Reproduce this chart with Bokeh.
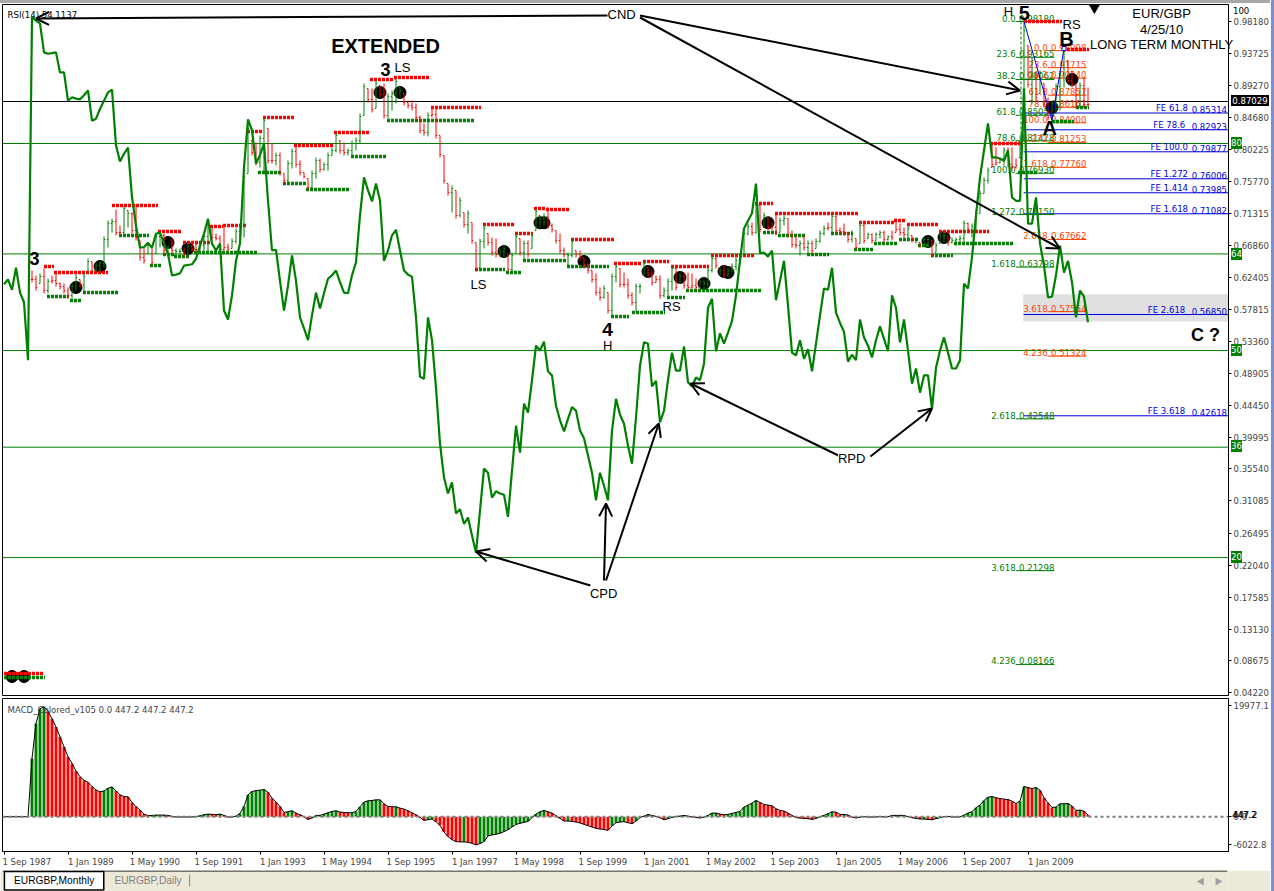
from bokeh.plotting import figure
from bokeh.embed import file_html
from bokeh.resources import INLINE
from bokeh.layouts import column, row
from bokeh.core.properties import value
from bokeh.models import (Range1d, LinearAxis, FixedTicker, PrintfTickFormatter, Span, Label, Arrow,
                          OpenHead, Div)

# ---------------------------------------------------------------- data
bar_first = 7
bar_high = [.6332,.6262,.6290,.6360,.6220,.6262,.6290,.6164,.6150,.6094,
.6150,.6276,.6206,.6290,.6500,.6458,.6444,.6472,.6808,.7032,
.7060,.7186,.6962,.7242,.7172,.7144,.7256,.6752,.6654,.6724,
.6682,.6850,.6864,.6850,.6682,.6780,.6640,.6640,.6654,.6710,
.6710,.6738,.6724,.6850,.6990,.6934,.6850,.6822,.6934,.6710,
.6780,.6920,.6990,.7690,.8362,.8152,.8124,.8222,.8474,.8320,
.8110,.7984,.7984,.7690,.7872,.8040,.8082,.7872,.7704,.7620,
.7732,.7914,.7900,.7844,.7984,.8054,.8264,.8152,.8124,.8040,
.8152,.8194,.8530,.8950,.8880,.8880,.8992,.8922,.8950,.8810,
.8852,.9020,.8894,.8810,.8712,.8712,.8670,.8502,.8390,.8544,
.8614,.8614,.8222,.7942,.7550,.7522,.7452,.7354,.7144,.7172,
.7004,.6724,.6780,.6962,.6850,.6794,.6780,.6640,.6682,.6570,
.6584,.6850,.6780,.6752,.6752,.6864,.7200,.7102,.7130,.7214,
.6990,.6892,.6850,.6654,.6584,.6780,.6612,.6612,.6514,.6430,
.6332,.6290,.6094,.6122,.6024,.6290,.6430,.6360,.6304,.6220,
.6024,.6150,.6150,.6472,.6374,.6332,.6262,.6262,.6094,.6220,
.6402,.6402,.6290,.6304,.6304,.6290,.6220,.6220,.6192,.6374,
.6542,.6514,.6374,.6402,.6374,.6430,.6514,.6570,.6892,.6990,
.7004,.7284,.7270,.7144,.7074,.7004,.7130,.7074,.7102,.7060,
.6892,.6822,.6752,.6822,.6752,.6752,.6780,.6892,.6962,.7004,
.7130,.7102,.6934,.6990,.6864,.6892,.6780,.7004,.6990,.6864,
.6850,.6864,.6892,.6892,.6822,.6892,.7060,.6990,.6934,.6962,
.6822,.6794,.6724,.6794,.6794,.6752,.6724,.6864,.6864,.6822,
.6794,.6794,.6822,.7032,.7004,.6990,.7172,.7452,.7634,.7774,
.8110,.8054,.7914,.8054,.8054,.8054,.7900,.8152,.9818,.9482,
.9314,.9104,.9132,.8950,.8754,.8712,.8950,.9132,.9440,.9272,
.9132,.8950,.8964,.9034,.8894]
bar_low = [.6164,.6052,.6150,.6010,.6010,.6150,.6108,.6066,.6010,.5940,
.5940,.6052,.6094,.6024,.6290,.6290,.6304,.6304,.6374,.6654,
.6864,.6822,.6822,.6822,.6934,.6850,.6752,.6472,.6430,.6570,
.6402,.6570,.6654,.6570,.6542,.6570,.6514,.6514,.6514,.6570,
.6584,.6584,.6612,.6612,.6584,.6752,.6752,.6584,.6612,.6584,
.6640,.6710,.6780,.6794,.7690,.7942,.7802,.7774,.7704,.7830,
.7830,.7802,.7662,.7550,.7550,.7760,.7774,.7662,.7620,.7452,
.7480,.7620,.7704,.7732,.7732,.7942,.7984,.7970,.7942,.7942,
.7914,.8012,.8110,.8502,.8684,.8544,.8600,.8754,.8460,.8460,
.8572,.8670,.8754,.8642,.8600,.8572,.8432,.8250,.8222,.8208,
.8474,.8180,.7914,.7550,.7382,.7144,.7060,.7074,.6934,.6850,
.6710,.6318,.6374,.6640,.6682,.6542,.6514,.6514,.6514,.6304,
.6304,.6570,.6542,.6472,.6514,.6640,.6892,.6934,.6962,.6920,
.6864,.6710,.6570,.6514,.6402,.6514,.6514,.6472,.6374,.6290,
.6164,.5982,.5912,.5940,.5730,.5702,.6164,.6094,.6094,.5940,
.5842,.5744,.6010,.6262,.6234,.6122,.6164,.5940,.5954,.5954,
.6052,.6052,.6150,.6080,.6052,.6080,.6052,.6080,.6080,.6094,
.6304,.6360,.6262,.6234,.6234,.6304,.6332,.6444,.6542,.6822,
.6822,.6850,.6864,.6934,.6892,.6892,.6822,.6864,.6962,.6794,
.6654,.6640,.6542,.6612,.6584,.6570,.6640,.6724,.6822,.6892,
.6850,.6850,.6850,.6822,.6724,.6724,.6612,.6710,.6710,.6780,
.6710,.6752,.6780,.6724,.6752,.6752,.6864,.6822,.6794,.6780,
.6724,.6710,.6654,.6682,.6710,.6514,.6584,.6710,.6724,.6682,
.6710,.6682,.6710,.6724,.6864,.6794,.6892,.7130,.7410,.7550,
.7774,.7802,.7830,.7802,.7774,.7732,.7760,.7914,.8152,.8894,
.8670,.8712,.8810,.8614,.8432,.8474,.8530,.8572,.8894,.8950,
.8894,.8600,.8614,.8614,.8614]
bar_close = [.6206,.6094,.6248,.6052,.6178,.6192,.6150,.6108,.6052,.5982,
.6108,.6234,.6136,.6248,.6458,.6332,.6402,.6430,.6766,.6990,
.7018,.6864,.6864,.7200,.7130,.6892,.6794,.6514,.6472,.6682,
.6444,.6808,.6822,.6612,.6640,.6612,.6598,.6598,.6556,.6668,
.6626,.6626,.6682,.6808,.6948,.6794,.6780,.6626,.6654,.6626,
.6738,.6878,.6948,.7648,.8320,.7984,.7844,.8180,.8432,.7872,
.7872,.7942,.7704,.7592,.7830,.7998,.7816,.7704,.7648,.7494,
.7690,.7872,.7746,.7816,.7942,.8012,.8222,.8012,.7984,.8012,
.8110,.8152,.8488,.8908,.8726,.8586,.8950,.8796,.8502,.8768,
.8810,.8978,.8852,.8684,.8642,.8614,.8474,.8292,.8264,.8502,
.8516,.8222,.7956,.7592,.7424,.7480,.7102,.7312,.6976,.7130,
.6752,.6360,.6738,.6920,.6724,.6584,.6556,.6598,.6640,.6346,
.6542,.6808,.6584,.6710,.6556,.6822,.7158,.7060,.7088,.6962,
.6906,.6752,.6612,.6556,.6542,.6738,.6556,.6514,.6416,.6332,
.6206,.6024,.5954,.6080,.5772,.6248,.6388,.6136,.6136,.5982,
.5884,.6108,.6108,.6430,.6276,.6164,.6206,.5982,.6052,.6178,
.6360,.6094,.6248,.6122,.6094,.6122,.6094,.6178,.6150,.6332,
.6500,.6402,.6332,.6276,.6332,.6388,.6472,.6528,.6850,.6948,
.6864,.7242,.6906,.7102,.6934,.6934,.6864,.7032,.7060,.6836,
.6696,.6682,.6710,.6654,.6710,.6612,.6738,.6850,.6920,.6934,
.7088,.6892,.6878,.6864,.6766,.6850,.6654,.6962,.6752,.6836,
.6752,.6836,.6864,.6766,.6808,.6794,.6906,.6864,.6836,.6920,
.6766,.6752,.6682,.6766,.6766,.6556,.6682,.6822,.6822,.6724,
.6752,.6766,.6780,.6990,.6906,.6948,.7130,.7410,.7592,.7732,
.7816,.7844,.7900,.8012,.7816,.7774,.7802,.8110,.9692,.8936,
.9272,.8754,.9090,.8656,.8474,.8670,.8908,.9090,.9398,.8992,
.8936,.8642,.8922,.8656,.8656]

rsi = [59.6,60.3,58.8,62.0,58.4,57.0,48.6,98.3,97.8,97.4,
93.2,93.0,93.1,93.2,90.3,90.3,86.2,86.7,86.5,86.4,
87.0,87.7,83.3,83.6,85.0,86.2,87.4,87.8,79.7,77.4,
78.5,79.4,72.2,68.1,64.9,65.0,65.6,64.9,66.9,67.1,
65.5,64.0,60.9,61.0,61.2,62.3,62.4,62.5,63.3,65.2,
66.9,69.1,65.5,64.5,65.5,55.8,54.5,58.0,63.0,65.5,
76.5,83.5,81.9,77.1,78.3,80.0,71.7,64.5,64.6,60.1,
55.8,59.4,63.8,60.1,54.8,53.2,51.5,55.1,58.4,56.1,
58.3,60.4,60.9,61.6,59.9,58.4,58.3,60.9,62.8,69.6,
75.1,73.2,71.6,74.2,71.7,63.0,64.5,66.7,67.5,64.5,
61.6,61.0,60.7,54.8,46.2,45.9,54.8,51.5,44.6,36.5,
31.6,29.3,30.9,26.4,27.0,24.9,25.8,23.2,20.7,26.8,
32.9,32.3,28.7,29.6,29.3,29.1,25.9,32.6,39.1,35.2,
42.3,41.0,45.7,50.7,50.0,51.3,47.0,46.4,42.0,39.9,
38.3,40.1,41.8,41.3,38.4,37.3,34.8,32.3,28.3,32.3,
30.4,28.3,38.4,43.0,40.7,39.4,36.2,33.6,40.3,47.8,
51.2,51.0,44.8,45.6,39.6,41.3,45.7,49.7,47.1,47.1,
50.6,45.4,44.8,46.1,45.7,48.1,56.2,57.5,49.9,52.5,
51.0,52.6,54.3,58.0,63.0,67.7,68.8,69.9,74.2,64.1,
64.2,63.6,64.5,57.3,60.1,63.0,56.5,49.7,49.3,51.5,
48.8,50.2,47.0,51.0,55.1,59.0,58.8,62.0,55.5,54.0,
52.7,48.4,49.4,48.6,54.5,51.9,50.7,49.0,51.5,53.5,
51.7,49.9,58.0,56.2,51.2,54.5,50.0,45.2,47.4,43.9,
46.4,46.4,41.6,47.5,50.0,51.9,49.7,47.4,47.4,48.6,
59.7,59.0,63.5,69.6,75.1,79.0,82.9,78.0,78.0,77.8,
77.5,79.0,72.2,71.7,71.7,88.0,68.4,68.4,72.2,65.5,
62.3,57.7,57.8,60.9,65.2,61.3,63.0,59.9,54.8,58.7,
57.8,54.1]
rsi_levels = [80, 64, 50, 36, 20]

macd = [0,0,0,0,0,0,0,
10472,16720,19397,19754,18921,17612,16125,14340,12555,10770,9580,8211,7200,6545,6188,5415,4820,4463,4641,5117,5355,4641,3927,3630,3570,2559,1845,1190,476,179,238,298,298,298,238,60,-60,-40,-60,-60,-40,0,179,357,476,417,357,476,238,-60,-60,119,595,1845,3927,4522,4700,4760,4879,4403,3332,2618,1845,774,893,1071,655,357,0,-476,-238,238,238,476,714,952,1071,833,774,714,714,952,1785,2618,2856,2916,3035,3035,2321,1845,1785,1785,1547,1369,1071,714,357,-119,
-654,-535,-416,-892,-1547,-2737,-3570,-4105,-4462,-4522,-4522,-4581,-4760,-5057,-4819,-4462,-3451,-3272,-3153,-2975,-2677,-2320,-1844,-1368,-1190,-1011,-833,-178,476,892,1130,892,654,178,-297,-773,-773,-833,-952,-1130,-1368,-1606,-1844,-2082,-2201,-2320,-2439,-1666,-1071,-952,-892,-1071,-1249,-773,-178,119,416,238,59,-178,-535,-357,-119,59,119,238,119,-59,-119,-238,-59,238,654,654,476,357,416,595,773,952,1725,2082,2439,2915,2558,2201,2082,1963,1428,1130,1011,654,238,-178,-238,-297,-357,-476,-297,0,238,535,892,833,416,
416,297,-59,-238,-59,0,-59,-59,-59,59,-59,0,238,238,238,238,0,-178,-297,-416,-416,-476,-535,-357,-178,0,59,-59,-59,-59,297,654,892,1606,2082,2915,3510,3629,3391,3272,3153,3094,2796,2380,2796,5414,5236,5057,5236,4760,3391,2499,1666,1725,2320,2320,2380,1904,1130,1190,1011,297]

res_start = [0,10,12.5,27,38.5,44.75,51.5,54.75,60.75,64.75,72.5,82.5,91.5,97.5,106.75,119.75,127.75,132.5,135.5,141.75,152.5,159.75,166.75,176.75,187.75,192.75,213.75,222.5,225.75,233.75,246.5,255,265.75]
res_end = [9.75,12.5,26,38.5,44.5,51.5,54.75,60.5,64.5,72.5,82.5,91.25,97.5,106.25,119.25,127.5,132.25,135.25,141.25,152.5,159.5,166.25,176.25,187.5,192.25,213.5,222.5,225.25,233.5,246.25,254.25,264.5,271.25]
res_price = [.069,.6388,.6304,.7242,.6878,.6724,.6948,.6962,.8278,.8474,.8082,.8264,.9006,.9034,.8614,.6976,.685,.72,.7186,.6766,.643,.6458,.6388,.6542,.727,.713,.7004,.7032,.6976,.6878,.811,.9818,.9426]
sup_start = [0,10.75,16.5,19.75,28.75,36.5,39.75,42.5,47.5,63.5,69.75,75.5,86.75,95.75,117.75,125.5,129.75,140.75,151.75,157,165.75,170.5,189.75,193.5,200.75,206.75,212.5,217.5,223.75,228.5,231.75,237.5,253.5,262,268]
sup_end = [10.25,16.25,19.5,28.5,36.25,39.25,42.5,46.25,63.5,69.5,75.5,86.25,95.5,117.5,125.25,129.5,140.5,151.25,156.25,165.25,170.25,189.25,193.25,200.25,206.25,212.25,217.25,223.5,228.5,231.5,237.25,252.25,258.5,267.5,271.25]
sup_price = [.0634,.5968,.5912,.6024,.6822,.6402,.6556,.6528,.6584,.7704,.755,.7466,.7928,.8432,.6346,.6304,.6472,.6388,.5688,.5744,.5954,.6052,.6864,.6822,.6556,.685,.6626,.671,.6766,.6682,.6542,.671,.7704,.8418,.8614]

pivot_bar = [2,5,18,24,41,46,94,99,125,134,135,145,161,169,175,180,181,191,231,235,262,267]
pivot_price = [.0648,.0648,.6094,.6388,.6724,.664,.8824,.8824,.6598,.7,.7,.6458,.6318,.6234,.615,.6318,.6304,.7,.6738,.6794,.8614,.9006]

green_fib_level = ["0.0","23.6","38.2","61.8","78.6","100.0","1.272","1.618","2.618","3.618","4.236"]
green_fib_price = [.98180,.93165,.90062,.85050,.81478,.76930,.71150,.63798,.42548,.21298,.08166]
red_fib_level = ["0.0","23.6","38.2","61.8","78.6","100.0","1.272","1.618","2.618","3.618","4.236"]
red_fib_price = [.94098,.91715,.90240,.87857,.86161,.84000,.81253,.77760,.67662,.57564,.51324]
fe_level = ["FE 61.8","FE  78.6","FE 100.0","FE 1.272","FE 1.414","FE 1.618","FE  2.618","FE  3.618"]
fe_label_value = [.85314,.82923,.79877,.76006,.73985,.71082,.56850,.42618]
fe_line_price = [.8537,.8302,.7994,.7616,.7420,.7126,.5716,.4298]

wave_bar = [255,262,265]
wave_price = [.9818,.8432,.9440]

price_ticks = [.98180,.93725,.89270,.84680,.80225,.75770,.71315,.66860,.62405,.57815,.53360,.48905,.44450,.39995,.35540,.31085,.26495,.22040,.17585,.13130,.08675,.04220]
last_price = 0.87029
date_ticks = list(range(0, 272, 16))
date_labels = ["1 Sep 1987","1 Jan 1989","1 May 1990","1 Sep 1991","1 Jan 1993","1 May 1994","1 Sep 1995","1 Jan 1997","1 May 1998","1 Sep 1999","1 Jan 2001","1 May 2002","1 Sep 2003","1 Jan 2005","1 May 2006","1 Sep 2007","1 Jan 2009"]

# ---------------------------------------------------------------- style
FONT = "Liberation Sans"
NARROW = "DejaVu Sans Condensed"
GREEN, RED, BLUE, ORANGE = "#008000", "#FF0000", "#0000DD", "#FF4500"
X_RANGE = (-0.375, 306.125)
SMALL = "9.5px"

# ---------------------------------------------------------------- main pane
p = figure(frame_width=1226, frame_height=691, output_backend="svg", toolbar_location=None,
           x_range=Range1d(*X_RANGE), y_range=Range1d(0.0382, 1.0056),
           x_axis_location=None, y_axis_location="right",
           min_border_left=2, min_border_right=42, min_border_top=1, min_border_bottom=3,
           outline_line_color="black", outline_line_width=1, background_fill_color="white")
p.grid.visible = False
p.extra_y_ranges = {"rsi": Range1d(0.02, 100.14)}
ax = p.yaxis[0]
ax.ticker = FixedTicker(ticks=price_ticks)
ax.formatter = PrintfTickFormatter(format="%.5f")
ax.major_label_text_font = NARROW
ax.major_label_text_font_size = SMALL
ax.major_tick_in = 0
ax.major_tick_out = 3
ax.minor_tick_line_color = None
ax.major_label_standoff = 2
ax.axis_line_color = "black"

p.quad(left=[254.8], right=[X_RANGE[1]], top=[.6], bottom=[.5618], fill_color="#E0E0E0", line_color=None)
for lv in rsi_levels:
    p.add_layout(Span(location=lv, dimension="width", y_range_name="rsi", line_color=GREEN, line_width=1, level="underlay"))
p.add_layout(Span(location=.8698, dimension="width", line_color="black", line_width=1, level="underlay"))

# fibonacci and expansion levels
for lv, pr in zip(fe_level, fe_line_price):
    p.segment(x0=[254.9], x1=[X_RANGE[1]], y0=[pr], y1=[pr], line_color=BLUE, line_width=1)
p.text(x=[305.75]*8, y=fe_line_price, text=["%.5f" % v for v in fe_label_value], text_align="right", text_baseline="bottom",
       text_color=BLUE, text_font=value(NARROW), text_font_size=SMALL)
p.text(x=[296]*8, y=fe_line_price, text=fe_level, text_align="right", text_baseline="bottom",
       text_color=BLUE, text_font=value(NARROW), text_font_size=SMALL)
p.segment(x0=[252.9]*11, x1=[262.6]*11, y0=green_fib_price, y1=green_fib_price, line_color=GREEN, line_width=1)
p.segment(x0=[260.9]*11, x1=[270.6]*11, y0=red_fib_price, y1=red_fib_price, line_color=ORANGE, line_width=1)
p.text(x=[252.9]*11, y=green_fib_price, text=green_fib_level, text_align="right", text_baseline="bottom", text_color=GREEN,
       text_font=value(NARROW), text_font_size=SMALL)
p.text(x=[262.6]*11, y=green_fib_price, text=["%.5f" % v for v in green_fib_price], text_align="right", text_baseline="bottom",
       text_color=GREEN, text_font=value(NARROW), text_font_size=SMALL)
p.text(x=[260.9]*11, y=red_fib_price, text=red_fib_level, text_align="right", text_baseline="bottom", text_color=ORANGE,
       text_font=value(NARROW), text_font_size=SMALL)
p.text(x=[270.6]*11, y=red_fib_price, text=["%.5f" % v for v in red_fib_price], text_align="right", text_baseline="bottom",
       text_color=ORANGE, text_font=value(NARROW), text_font_size=SMALL)
p.segment(x0=[254.25], x1=[254.25], y0=[.9818], y1=[.7704], line_color=GREEN, line_width=1, line_dash="3 2")

# pivots, resistance and support dots
p.scatter(pivot_bar, pivot_price, size=12, marker="circle", fill_color="black", line_color="black")
p.segment(x0=res_start, x1=res_end, y0=res_price, y1=res_price, line_color=RED, line_width=3.5, line_dash="3 1")
p.segment(x0=sup_start, x1=sup_end, y0=sup_price, y1=sup_price, line_color=GREEN, line_width=3.5, line_dash="3 1")

# monthly HLC bars
xs = [bar_first + k for k in range(len(bar_high))]
cols = [GREEN if c >= (h + l) / 2 else RED for h, l, c in zip(bar_high, bar_low, bar_close)]
opens = [bar_close[0]] + bar_close[:-1]
opens = [min(max(o, l), h) for o, l, h in zip(opens, bar_low, bar_high)]
p.segment(x0=xs, x1=xs, y0=bar_low, y1=bar_high, line_color=cols, line_width=1)
p.segment(x0=xs, x1=[x + 0.3 for x in xs], y0=bar_close, y1=bar_close, line_color=cols, line_width=1)
p.segment(x0=[x - 0.3 for x in xs], x1=xs, y0=opens, y1=opens, line_color=cols, line_width=1)

p.line(wave_bar, wave_price, line_color=BLUE, line_width=1)
p.scatter([wave_bar[2]], [wave_price[2]], size=4, marker="square", fill_color="white", line_color=BLUE)

# RSI
p.line(list(range(len(rsi))), rsi, y_range_name="rsi", line_color=GREEN, line_width=2.2)
p.scatter([272.6], [1.0021], size=11, marker="inverted_triangle", fill_color="black", line_color="black")

# hand-drawn arrows
arrow_from_bar = [151, 159, 159, 146.6, 150, 150.5, 208.6, 216.6]
arrow_from_price = [.9902, .9902, .9874, .1922, .1992, .1992, .3742, .3728]
arrow_to_bar = [8, 254, 264, 118, 150.5, 163.7, 171.6, 232]
arrow_to_price = [.986, .8852, .664, .2398, .307, .419, .475, .44]
for a, b, c, d in zip(arrow_from_bar, arrow_from_price, arrow_to_bar, arrow_to_price):
    p.add_layout(Arrow(end=OpenHead(size=13, line_width=2, line_color="black"), x_start=a, y_start=b, x_end=c, y_end=d,
                       line_color="black", line_width=2))

def note(text, bar, price, size, bold=False, align="center", bg=None, color="black", font=FONT):
    p.add_layout(Label(x=bar, y=price, text=text, text_font=font, text_font_size=size, text_color=color,
                       text_font_style="bold" if bold else "normal", text_align=align, text_baseline="middle",
                       background_fill_color=bg))

note("EXTENDED", 95.4, .9482, "20px", True)
note("3", 7.6, .65, "18px", True)
note("3", 95.4, .9146, "18px", True)
note("LS", 99.6, .9174, "13px")
note("LS", 118.6, .6136, "13px")
note("RS", 166.9, .5828, "13px")
note("4", 150.9, .5506, "19px", True)
note("H", 150.9, .5282, "13px")
note("5", 255.1, .9944, "20px", True)
note("H", 251.1, .9958, "13px")
note("RS", 266.9, .9776, "13px")
note("B", 265.6, .958, "20px", True)
note("A", 261.4, .8334, "20px", True)
note("C ?", 300.4, .5436, "18px", True)
note("EUR/GBP", 289.4, .993, "13px")
note("4/25/10", 289.4, .9706, "13px")
note("CND", 154.4, .9916, "13px", bg="white")
note("CPD", 149.9, .181, "13px", bg="white")
note("RPD", 211.9, .37, "13px", bg="white")
note("RSI(14) 54.1137", 0.9, .9916, SMALL, align="left", font=NARROW)

# ---------------------------------------------------------------- MACD pane
q = figure(frame_width=1226, frame_height=153, output_backend="svg", toolbar_location=None,
           x_range=Range1d(*X_RANGE), y_range=Range1d(-6244, 21230),
           x_axis_location="below", y_axis_location="right",
           min_border_left=2, min_border_right=42, min_border_top=0, min_border_bottom=19,
           outline_line_color="black", outline_line_width=1)
q.grid.visible = False
xa = q.xaxis[0]
xa.ticker = FixedTicker(ticks=date_ticks)
xa.major_label_overrides = {d: "" for d in date_ticks}
xa.major_label_text_font_size = "1px"
xa.major_label_standoff = 0
xa.major_tick_in = 0
xa.major_tick_out = 3
xa.minor_tick_line_color = None
xa.axis_line_color = "black"
# date captions start at their tick, so they hang on a second axis whose ticks sit at the captions' centres
date_shift = 5.7
caption_ticks = [d + date_shift for d in date_ticks]
xb = LinearAxis(ticker=FixedTicker(ticks=caption_ticks),
                major_label_overrides=dict(zip(caption_ticks, date_labels)),
                major_label_text_font=NARROW, major_label_text_font_size=SMALL, major_label_standoff=1,
                major_tick_in=0, major_tick_out=0, minor_tick_line_color=None, axis_line_color=None)
q.add_layout(xb, "below")
ya = q.yaxis[0]
ya.ticker = FixedTicker(ticks=[19977.1, 0, -5040])
ya.major_label_overrides = {19977.1: "19977.1", 0: "0.0", -5040: "-6022.8"}
ya.major_label_text_font = NARROW
ya.major_label_text_font_size = SMALL
ya.major_tick_in = 0
ya.major_tick_out = 3
ya.minor_tick_line_color = None
ya.major_label_standoff = 2

mx = list(range(len(macd)))
mcol = [GREEN if k == 0 or macd[k] >= macd[k - 1] else RED for k in mx]
q.vbar(x=mx, top=macd, bottom=0, width=0.72, fill_color=mcol, line_color=None)
q.line(mx, macd, line_color="black", line_width=1)
q.segment(x0=[X_RANGE[0]], x1=[X_RANGE[1]], y0=[0], y1=[0], line_color="#808080", line_width=2, line_dash="3 3")
q.add_layout(Label(x=0.9, y=19300, text="MACD_Colored_v105 0.0 447.2 447.2 447.2", text_font=NARROW, text_font_size=SMALL,
                   text_baseline="middle"))

# ---------------------------------------------------------------- tab strip
t = figure(width=1270, height=21, output_backend="svg", toolbar_location=None, x_range=Range1d(0, 1270), y_range=Range1d(21, 0),
           x_axis_location=None, y_axis_location=None, min_border=0, outline_line_color=None,
           background_fill_color="#ECE9D8", border_fill_color="#ECE9D8")
t.grid.visible = False
t.quad(left=[2], right=[105], top=[1], bottom=[19.5], fill_color="white", line_color="black", line_width=1.5)
t.segment(x0=[0], x1=[1270], y0=[0.5], y1=[0.5], line_color="black", line_width=1)
t.text(x=[12], y=[10], text=["EURGBP,Monthly"], text_font=value(FONT), text_font_size="10.2px", text_baseline="middle")
t.text(x=[116], y=[10], text=["EURGBP,Daily"], text_font=value(FONT), text_font_size="10.2px", text_baseline="middle", text_color="#808080")
t.segment(x0=[194], x1=[194], y0=[4], y1=[16], line_color="#808080", line_width=1)
t.scatter([1243], [11], size=8, marker="triangle", angle=1.5708, fill_color="#A0A0A0", line_color=None)
t.scatter([1260], [11], size=8, marker="triangle", angle=-1.5708, fill_color="#A0A0A0", line_color=None)

# ---------------------------------------------------------------- captions lying across the axis gutter
def tag(text, left, top_px, w, h, color="black", bg="transparent", size=SMALL, font=NARROW):
    return Div(text=text, width=w, height=h, margin=0,
               styles={"position": "absolute", "left": f"{left}px", "top": f"{top_px}px", "background": bg, "color": color,
                       "font-family": f"'{font}'", "font-size": size, "line-height": f"{h}px", "white-space": "nowrap",
                       "text-align": "center" if bg != "transparent" else "left"})

tags = [tag(str(lv), 1231, y - 6, 11, 12, "white", GREEN) for lv, y in zip(rsi_levels, [143, 254, 350, 446, 557])]
tags += [tag("100", 1233, 5, 20, 12),
         tag("%.5f" % last_price, 1231, 95, 38, 11, "white", "black"),
         tag("447.2", 1232, 809, 24, 12), tag("447.2", 1233, 809, 24, 12),
         tag("LONG TERM MONTHLY", 1090, 37, 145, 16, size="13px", font=FONT)]

top = Div(width=1270, height=3, margin=0, styles={"background": "#A8A8A8"})
strip = Div(width=4, height=891, margin=0, styles={"background": "#7C8CD8"})
root = row(column(top, p, q, t, spacing=0), strip, *tags, spacing=0)
root.styles = {"position": "absolute", "left": "0px", "top": "0px"}

open("out.html", "w").write(file_html(root, INLINE))
